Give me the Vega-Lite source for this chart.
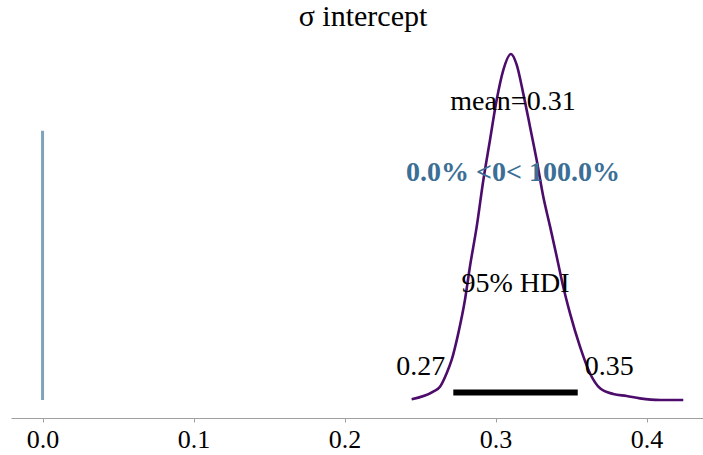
{
  "$schema": "https://vega.github.io/schema/vega-lite/v6.json",
  "width": 704,
  "height": 378,
  "autosize": {"type": "none"},
  "padding": {"left": 11, "top": 40, "right": 0, "bottom": 37},
  "background": "white",
  "config": {"view": {"stroke": null}, "font": "Liberation Serif"},
  "title": {"text": "σ intercept", "font": "Liberation Serif", "fontSize": 30, "fontWeight": "normal", "color": "black", "anchor": "middle", "offset": 8},
  "datasets": {
    "kde": [
      {"x": 0.2444, "density": 0.04},
      {"x": 0.2587, "density": 0.46},
      {"x": 0.2632, "density": 0.73},
      {"x": 0.2676, "density": 1.47},
      {"x": 0.2709, "density": 2.2},
      {"x": 0.2753, "density": 3.66},
      {"x": 0.2797, "density": 5.49},
      {"x": 0.283, "density": 7.32},
      {"x": 0.2875, "density": 9.52},
      {"x": 0.2919, "density": 12.08},
      {"x": 0.2963, "density": 14.28},
      {"x": 0.3007, "density": 16.47},
      {"x": 0.3051, "density": 18.12},
      {"x": 0.3102, "density": 19.0},
      {"x": 0.314, "density": 18.4},
      {"x": 0.3183, "density": 16.84},
      {"x": 0.3228, "density": 15.01},
      {"x": 0.3272, "density": 13.18},
      {"x": 0.3316, "density": 11.16},
      {"x": 0.3361, "density": 9.52},
      {"x": 0.3405, "density": 7.87},
      {"x": 0.3448, "density": 6.22},
      {"x": 0.3493, "density": 4.76},
      {"x": 0.3559, "density": 2.93},
      {"x": 0.3625, "density": 1.47},
      {"x": 0.3692, "density": 0.64},
      {"x": 0.3779, "density": 0.33},
      {"x": 0.3868, "density": 0.22},
      {"x": 0.3956, "density": 0.09},
      {"x": 0.4089, "density": 0.0},
      {"x": 0.4243, "density": 0.0}
    ],
    "stats": [
      {"mean": 0.3115, "hdi_low": 0.272, "hdi_high": 0.3544, "hdi_mid": 0.3132, "ref": 0, "mean_label": "mean=0.31", "pct_label": "0.0% <0< 100.0%", "hdi_label": "95% HDI", "low_label": "0.27", "high_label": "0.35"}
    ]
  },
  "layer": [
    {
      "data": {"name": "kde"},
      "mark": {"type": "line", "color": "#4b0c6b", "strokeWidth": 2.6, "interpolate": "monotone"},
      "encoding": {
        "x": {"field": "x", "type": "quantitative", "scale": {"domain": [-0.0209, 0.4453], "nice": false, "zero": false},
          "axis": {"values": [0, 0.1, 0.2, 0.3, 0.4], "format": ".1f", "title": null, "grid": false, "domainColor": "#a0a0a0", "domainWidth": 1.2, "tickColor": "#a0a0a0", "tickSize": 4, "labelFont": "Liberation Serif", "labelFontSize": 26, "labelColor": "black", "labelPadding": 4, "labelFlush": false}},
        "y": {"field": "density", "type": "quantitative", "scale": {"domain": [-0.988, 19.77], "nice": false, "zero": false}, "axis": null}
      }
    },
    {
      "data": {"name": "stats"},
      "mark": {"type": "rule", "color": "#7fa2bd", "strokeWidth": 3},
      "encoding": {"x": {"field": "ref", "type": "quantitative"}, "y": {"datum": 0}, "y2": {"datum": 14.79}}
    },
    {
      "data": {"name": "stats"},
      "mark": {"type": "rule", "color": "black", "strokeWidth": 6},
      "encoding": {"x": {"field": "hdi_low", "type": "quantitative"}, "x2": {"field": "hdi_high"}, "y": {"datum": 0.41}}
    },
    {
      "data": {"name": "stats"},
      "mark": {"type": "text", "font": "Liberation Serif", "fontSize": 28, "color": "black", "align": "center", "baseline": "alphabetic"},
      "encoding": {"x": {"field": "mean", "type": "quantitative"}, "y": {"datum": 15.93}, "text": {"field": "mean_label"}}
    },
    {
      "data": {"name": "stats"},
      "mark": {"type": "text", "font": "Liberation Serif", "fontSize": 28, "fontWeight": "bold", "color": "#3b6f96", "align": "center", "baseline": "alphabetic"},
      "encoding": {"x": {"field": "mean", "type": "quantitative"}, "y": {"datum": 12.03}, "text": {"field": "pct_label"}}
    },
    {
      "data": {"name": "stats"},
      "mark": {"type": "text", "font": "Liberation Serif", "fontSize": 28, "color": "black", "align": "center", "baseline": "alphabetic"},
      "encoding": {"x": {"field": "hdi_mid", "type": "quantitative"}, "y": {"datum": 5.95}, "text": {"field": "hdi_label"}}
    },
    {
      "data": {"name": "stats"},
      "mark": {"type": "text", "font": "Liberation Serif", "fontSize": 28, "color": "black", "align": "right", "baseline": "alphabetic", "dx": -8},
      "encoding": {"x": {"field": "hdi_low", "type": "quantitative"}, "y": {"datum": 1.37}, "text": {"field": "low_label"}}
    },
    {
      "data": {"name": "stats"},
      "mark": {"type": "text", "font": "Liberation Serif", "fontSize": 28, "color": "black", "align": "left", "baseline": "alphabetic", "dx": 7},
      "encoding": {"x": {"field": "hdi_high", "type": "quantitative"}, "y": {"datum": 1.37}, "text": {"field": "high_label"}}
    }
  ]
}
